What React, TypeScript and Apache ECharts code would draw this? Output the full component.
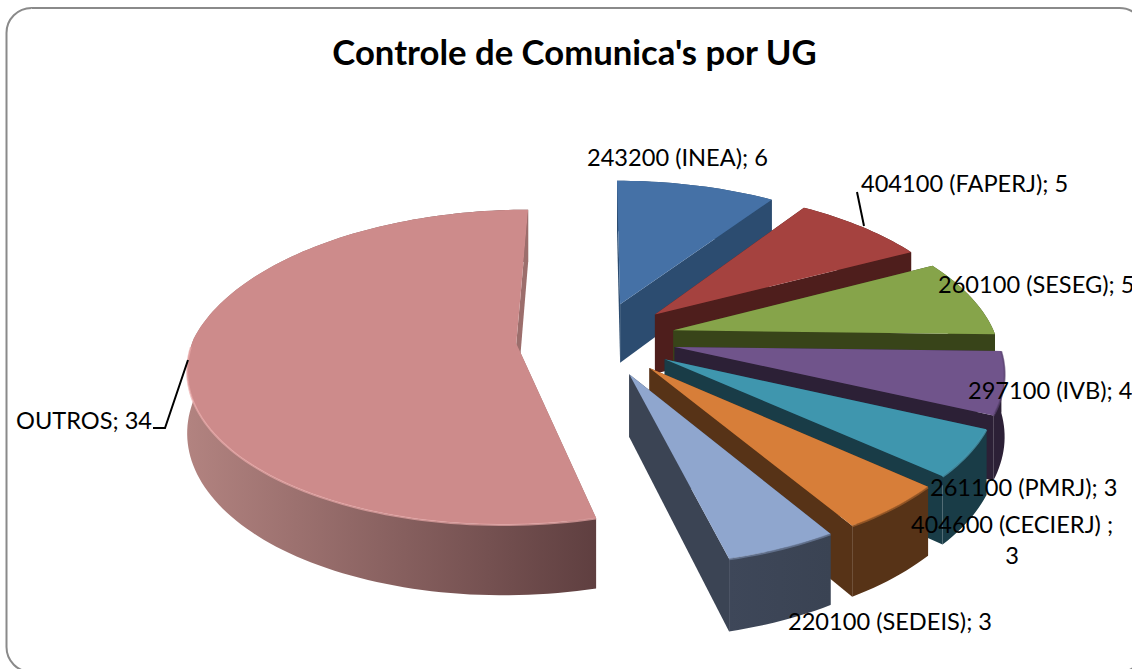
import React, { useEffect, useRef } from "react";
import * as echarts from "echarts";

const chartTitle = "Controle de Comunica's por UG";
const categories = [
  "243200 (INEA)",
  "404100 (FAPERJ)",
  "260100 (SESEG)",
  "297100 (IVB)",
  "261100 (PMRJ)",
  "404600 (CECIERJ) ",
  "220100 (SEDEIS)",
  "OUTROS",
];
const values = [6, 5, 5, 4, 3, 3, 3, 34];
const labelSeparators = ["; ", "; ", "; ", "; ", "; ", ";\n", "; ", "; "];

const topColors = ["#4571a6", "#a5423f", "#86a44a", "#70548b", "#3f96ae", "#d77e39", "#8fa6ce", "#cd8b8b"];
const faceColors = ["#2c4c70", "#4e1e1c", "#384419", "#2c2036", "#193c47", "#573317", "#3b4454", "#9c6e6c"];
const wallColors = ["#2c4c70", "#4e1e1c", "#4a5a22", "#2c2036", "#193c47", "#573317", "#3e4759", "#b28380"];
const wallEndColors = ["#2c4c70", "#4e1e1c", "#384419", "#2c2036", "#193c47", "#573317", "#3a4353", "#5f3f40"];
const rimColors = ["#4571a6", "#a5423f", "#6f8a3c", "#5c4474", "#4fa3ba", "#a8622c", "#6f80a0", "#e9aaaa"];
const explosions = [78, 78, 78, 78, 78, 78, 78, 82];

// label anchor: x, y (centre of the first line), alignment
const labelPlaces: [number, number, string][] = [
  [587, 157, "left"],
  [861, 183, "left"],
  [938, 284, "left"],
  [968, 390, "left"],
  [930, 487, "left"],
  [1012, 524, "center"],
  [788, 621, "left"],
  [16, 420, "left"],
];

const CX = 598, CY = 338.6, R = 323, TILT = 0.48, DEPTH = 61;
const A_BACK = 0.17, A_FRONT = 0.135;
const total = values.reduce((a, b) => a + b, 0);
const rad = (d: number) => (d * Math.PI) / 180;

function project(x: number, y: number, z: number): [number, number] {
  const t = y / R;
  const s = 1 / (1 + (t > 0 ? A_BACK : A_FRONT) * t);
  return [CX + x * s, CY - TILT * y * s + z * s];
}

function sliceAngles(i: number): [number, number] {
  const before = values.slice(0, i).reduce((a, b) => a + b, 0);
  return [(before / total) * 360, ((before + values[i]) / total) * 360];
}

function renderSlice(_p: any, api: any) {
  const i = api.value(0) as number;
  const [a0, a1] = sliceAngles(i);
  const mid = rad((a0 + a1) / 2);
  const ox = explosions[i] * Math.sin(mid);
  const oy = explosions[i] * Math.cos(mid);
  const pt = (deg: number, z: number) =>
    project(ox + R * Math.sin(rad(deg)), oy + R * Math.cos(rad(deg)), z);
  const apexT = project(ox, oy, 0);
  const apexB = project(ox, oy, DEPTH);
  const degs: number[] = [];
  const n = Math.ceil((a1 - a0) / 1.5);
  for (let k = 0; k <= n; k++) degs.push(a0 + ((a1 - a0) * k) / n);
  const arcT = degs.map((d) => pt(d, 0));
  const arcB = degs.map((d) => pt(d, DEPTH));
  const xs = arcT.map((p) => p[0]);
  const wallFill = {
    type: "linear",
    global: true,
    x: Math.min(...xs),
    y: 0,
    x2: Math.max(...xs),
    y2: 0,
    colorStops: [
      { offset: 0, color: wallColors[i] },
      { offset: 1, color: wallEndColors[i] },
    ],
  };
  const poly = (points: number[][], fill: any) => ({
    type: "polygon",
    shape: { points },
    style: { fill, stroke: "none" },
    silent: true,
  });
  const frontDegs = degs.filter((d) => Math.cos(rad(d)) < 0);
  return {
    type: "group",
    children: [
      poly([apexT, arcT[0], arcB[0], apexB], faceColors[i]),
      poly([...arcT, ...arcB.slice().reverse()], wallFill),
      poly([apexT, arcT[n], arcB[n], apexB], faceColors[i]),
      poly([apexT, ...arcT], topColors[i]),
      {
        type: "polyline",
        shape: { points: frontDegs.map((d) => pt(d, 0.5)) },
        style: { stroke: rimColors[i], lineWidth: 2, fill: "none", opacity: 0.7 },
        silent: true,
      },
    ],
  };
}

const drawOrder = [7, 0, 1, 2, 3, 4, 5, 6];
const FONT = "Lato";

export default function App() {
  const ref = useRef<HTMLDivElement>(null);
  useEffect(() => {
    document.body.style.margin = "0";
    const chart = echarts.init(ref.current!, null, { renderer: "svg" });
    chart.setOption({
      animation: false,
      backgroundColor: "#ffffff",
      title: {
        text: chartTitle,
        left: 569.5,
        textAlign: "center",
        top: 29,
        textStyle: { fontFamily: FONT, fontWeight: "bold", fontSize: 34.7, color: "#000" },
      },
      graphic: [
        {
          type: "rect",
          silent: true,
          z: -1,
          shape: { x: 6.5, y: 8, width: 1138, height: 664, r: 25 },
          style: { fill: "#fff", stroke: "#8a8a8a", lineWidth: 2 },
        },
      ],
      series: [
        {
          type: "custom",
          coordinateSystem: "none",
          renderItem: renderSlice,
          data: drawOrder.map((i) => [i, values[i]]),
          silent: true,
          z: 2,
        },
        {
          type: "custom",
          coordinateSystem: "none",
          silent: true,
          z: 3,
          data: [[0]],
          renderItem: () => ({
            type: "group",
            children: [
              {
                type: "polyline",
                shape: { points: [[188, 360], [165, 428], [153, 428]] },
                style: { stroke: "#000", lineWidth: 2, fill: "none" },
              },
              {
                type: "line",
                shape: { x1: 857, y1: 192, x2: 864, y2: 226 },
                style: { stroke: "#000", lineWidth: 2 },
              },
              ...categories.map((c, i) => ({
                type: "text",
                x: labelPlaces[i][0],
                y: labelPlaces[i][1] - 15.5,
                style: {
                  text: c + labelSeparators[i] + values[i],
                  fill: "#000",
                  fontFamily: FONT,
                  fontSize: 23.6,
                  align: labelPlaces[i][2],
                  verticalAlign: "top",
                  lineHeight: 31,
                },
              })),
            ],
          }),
        },
      ],
    });
    return () => chart.dispose();
  }, []);
  return (
    <div
      ref={ref}
      style={{ position: "fixed", left: 0, top: 0, width: 1132, height: 669, overflow: "hidden" }}
    />
  );
}
